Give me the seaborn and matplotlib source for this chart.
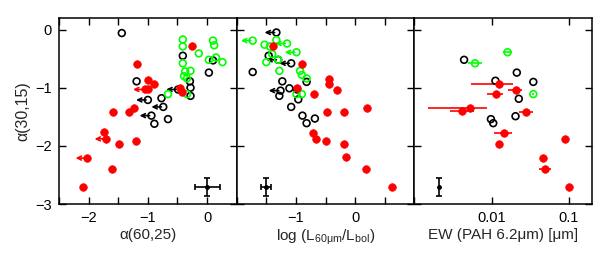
import matplotlib
matplotlib.use("Agg")
import matplotlib.pyplot as plt
import seaborn as sns
import numpy as np
import pandas as pd

# ---------- data ----------
# Panel 1: alpha(60,25) vs alpha(30,15)
p1_black_x = [-1.44, -0.41, -1.19, 0.03, 0.10, -0.29, -0.28, -0.28, -0.49, -1.00, -0.77, -0.74, -0.94, -0.89, -0.66]
p1_black_y = [-0.06, -0.45, -0.89, -0.74, -0.53, -0.89, -1.00, -1.14, -1.03, -1.21, -1.18, -1.33, -1.48, -1.62, -1.54]
p1_black_lim = [0, 0, 0, 0, 0, 0, 0, 0, 1, 1, 0, 1, 1, 0, 0]
p1_green_x = [-0.41, -0.41, 0.10, 0.12, -0.14, -0.41, 0.03, 0.15, 0.26, -0.37, -0.28, -0.39, -0.34, -0.66, -0.34]
p1_green_y = [-0.17, -0.29, -0.19, -0.27, -0.41, -0.58, -0.52, -0.48, -0.56, -0.72, -0.71, -0.80, -0.84, -1.11, -1.11]
p1_red_x = [-0.26, -1.18, -0.99, -0.89, -1.05, -0.99, -0.46, -0.43, -1.59, -1.32, -1.23, -1.74, -1.70, -1.49, -1.20, -2.02, -1.61, -2.09]
p1_red_y = [-0.29, -0.60, -0.86, -0.93, -1.03, -1.02, -1.01, -1.08, -1.41, -1.41, -1.35, -1.77, -1.88, -1.97, -1.91, -2.21, -2.40, -2.70]
p1_red_lim = [0, 0, 0, 0, 1, 0, 0, 0, 0, 0, 0, 0, 1, 0, 0, 1, 0, 0]
p1_err = (0.0, -2.70, 0.21, 0.155)

# Panel 2: log(L60/Lbol) vs alpha(30,15)
p2_black_x = [-1.33, -1.46, -1.30, -1.08, -1.73, -1.23, -0.82, -1.11, -1.26, -1.28, -0.98, -0.96, -1.08, -0.89, -0.82, -0.68]
p2_black_y = [-0.05, -0.45, -0.52, -0.58, -0.73, -0.89, -0.90, -1.01, -1.05, -1.14, -1.03, -1.20, -1.33, -1.48, -1.61, -1.53]
p2_black_lim = [1, 0, 1, 1, 0, 0, 0, 0, 1, 0, 0, 0, 0, 0, 0, 0]
p2_green_x = [-1.73, -1.53, -1.44, -1.33, -1.15, -0.99, -1.40, -1.50, -1.30, -1.28, -0.93, -0.90, -0.82, -0.99, -0.90]
p2_green_y = [-0.19, -0.26, -0.29, -0.18, -0.24, -0.39, -0.42, -0.56, -0.52, -0.71, -0.71, -0.78, -0.84, -1.11, -1.11]
p2_green_lim = [1, 0, 0, 0, 1, 1, 0, 0, 0, 0, 0, 0, 0, 0, 0]
p2_red_x = [-1.38, -0.90, -0.45, -0.44, -0.31, -0.98, -0.69, -0.48, -0.19, 0.20, -0.72, -0.66, -0.50, -0.19, -0.16, 0.18, 0.63]
p2_red_y = [-0.29, -0.60, -0.85, -0.94, -1.04, -1.01, -1.10, -1.41, -1.42, -1.35, -1.78, -1.88, -1.91, -1.97, -2.20, -2.40, -2.70]
p2_err = (-1.50, -2.70, 0.085, 0.155)

# Panel 3: EW(PAH 6.2um) vs alpha(30,15)
p3_black_x = [0.0044, 0.0212, 0.0112, 0.0347, 0.0225, 0.0098, 0.0105, 0.0204]
p3_black_y = [-0.52, -0.74, -0.88, -0.90, -1.19, -1.54, -1.61, -1.49]
p3_green_x = [0.0161, 0.0061, 0.0347]
p3_green_y = [-0.39, -0.58, -1.11]
p3_green_xlo = [0.0141, 0.0049, 0.0335]
p3_green_xhi = [0.0186, 0.0075, 0.0359]
p3_red_x = [0.0123, 0.0114, 0.0204, 0.0052, 0.0041, 0.0280, 0.0145, 0.0123, 0.089, 0.047, 0.049, 0.101]
p3_red_y = [-0.93, -1.10, -1.04, -1.35, -1.40, -1.41, -1.78, -1.97, -1.88, -2.21, -2.40, -2.70]
p3_red_xlo = [0.00542, 0.00863, 0.0164, 0.0015, 0.00288, 0.0229, 0.0107, 0.0116, 0.087, 0.043, 0.0411, 0.099]
p3_red_xhi = [0.0192, 0.0141, 0.0246, 0.0087, 0.00598, 0.0348, 0.0183, 0.0130, 0.091, 0.051, 0.058, 0.103]
p3_err = (0.0021, -2.70, 0.155)

# ---------- style ----------
sns.set_style("ticks")
plt.rcParams['font.family'] = ['Liberation Sans', 'DejaVu Sans']
plt.rcParams['mathtext.fontset'] = 'custom'
plt.rcParams['mathtext.rm'] = 'Liberation Sans'
plt.rcParams['mathtext.it'] = 'Liberation Sans:italic'
plt.rcParams['mathtext.sf'] = 'Liberation Sans'

RED = '#ff0000'
GREEN = '#00ff00'
MS = 24

fig, axes = plt.subplots(1, 3, figsize=(6.11, 2.72), dpi=100, sharey=True)
fig.subplots_adjust(left=0.0966, right=0.969, top=0.934, bottom=0.25, wspace=0)


def open_pts(ax, x, y, color):
    df = pd.DataFrame({'x': x, 'y': y})
    sns.scatterplot(data=df, x='x', y='y', ax=ax, marker='o', s=MS,
                    facecolor='none', edgecolor=color, linewidth=1.2, zorder=3)


def filled_pts(ax, x, y, color):
    df = pd.DataFrame({'x': x, 'y': y})
    sns.scatterplot(data=df, x='x', y='y', ax=ax, marker='o', s=MS + 6,
                    color=color, edgecolor=color, linewidth=0.5, zorder=3)


def arrows(ax, x, y, lim, color, length=0.2):
    for xi, yi, li in zip(x, y, lim):
        if li:
            ax.annotate('', xy=(xi - length, yi), xytext=(xi - 0.03, yi),
                        arrowprops=dict(arrowstyle='->', color=color, lw=1.2,
                                        shrinkA=0, shrinkB=0,
                                        mutation_scale=7), zorder=2)


# Panel 1
ax = axes[0]
arrows(ax, p1_black_x, p1_black_y, p1_black_lim, 'black')
arrows(ax, p1_red_x, p1_red_y, p1_red_lim, RED)
open_pts(ax, p1_black_x, p1_black_y, 'black')
open_pts(ax, p1_green_x, p1_green_y, GREEN)
filled_pts(ax, p1_red_x, p1_red_y, RED)
ax.errorbar([p1_err[0]], [p1_err[1]], xerr=[p1_err[2]], yerr=[p1_err[3]],
            fmt='o', ms=2.5, color='black', lw=1.2, capsize=2.5, capthick=1.2)
ax.set_xlim(-2.5, 0.5)
ax.set_xticks([-2.5, -2, -1.5, -1, -0.5, 0, 0.5])
ax.set_xticklabels(['', '\u22122', '', '\u22121', '', '0', ''])
ax.set_xlabel('\u03b1(60,25)', fontsize=11, labelpad=2)

# Panel 2
ax = axes[1]
arrows(ax, p2_black_x, p2_black_y, p2_black_lim, 'black')
arrows(ax, p2_green_x, p2_green_y, p2_green_lim, GREEN)
open_pts(ax, p2_black_x, p2_black_y, 'black')
open_pts(ax, p2_green_x, p2_green_y, GREEN)
filled_pts(ax, p2_red_x, p2_red_y, RED)
ax.errorbar([p2_err[0]], [p2_err[1]], xerr=[p2_err[2]], yerr=[p2_err[3]],
            fmt='o', ms=2.5, color='black', lw=1.2, capsize=2.5, capthick=1.2)
ax.set_xlim(-2, 1)
ax.set_xticks([-2, -1.5, -1, -0.5, 0, 0.5, 1])
ax.set_xticklabels(['', '', '\u22121', '', '0', '', ''])
ax.set_xlabel(r'log (L$_{\mathrm{60\mu m}}$/L$_{\mathrm{bol}}$)', fontsize=11, labelpad=2)

# Panel 3
ax = axes[2]
ax.set_xscale('log')
gx = np.array(p3_green_x)
rx = np.array(p3_red_x)
ax.errorbar(p3_green_x, p3_green_y,
            xerr=[gx - np.array(p3_green_xlo), np.array(p3_green_xhi) - gx],
            fmt='none', ecolor=GREEN, lw=1.2, zorder=2)
ax.errorbar(p3_red_x, p3_red_y,
            xerr=[rx - np.array(p3_red_xlo), np.array(p3_red_xhi) - rx],
            fmt='none', ecolor=RED, lw=1.2, zorder=2)
open_pts(ax, p3_black_x, p3_black_y, 'black')
open_pts(ax, p3_green_x, p3_green_y, GREEN)
filled_pts(ax, p3_red_x, p3_red_y, RED)
ax.errorbar([p3_err[0]], [p3_err[1]], yerr=[p3_err[2]],
            fmt='o', ms=2.5, color='black', lw=1.2, capsize=2.5, capthick=1.2)
ax.set_xlim(0.001, 0.2)
ax.set_xticks([0.001, 0.01, 0.1])
ax.set_xticklabels(['', '0.01', '0.1'])
ax.minorticks_off()
ax.set_xlabel('EW (PAH 6.2\u03bcm) [\u03bcm]', fontsize=11, labelpad=2)

for ax in axes:
    ax.set_ylim(-3, 0.2)
    ax.set_yticks([-3, -2, -1, 0])
    ax.tick_params(direction='in', top=True, right=True, length=5, width=1,
                   labelsize=10.5, pad=5, colors='black')
    for s in ax.spines.values():
        s.set_linewidth(1.1)
        s.set_color('black')
    ax.set_ylabel('')

axes[0].set_yticklabels(['\u22123', '\u22122', '\u22121', '0'])
axes[0].set_ylabel('\u03b1(30,15)', fontsize=11.5, labelpad=4)

fig.savefig('out.png', dpi=100)
